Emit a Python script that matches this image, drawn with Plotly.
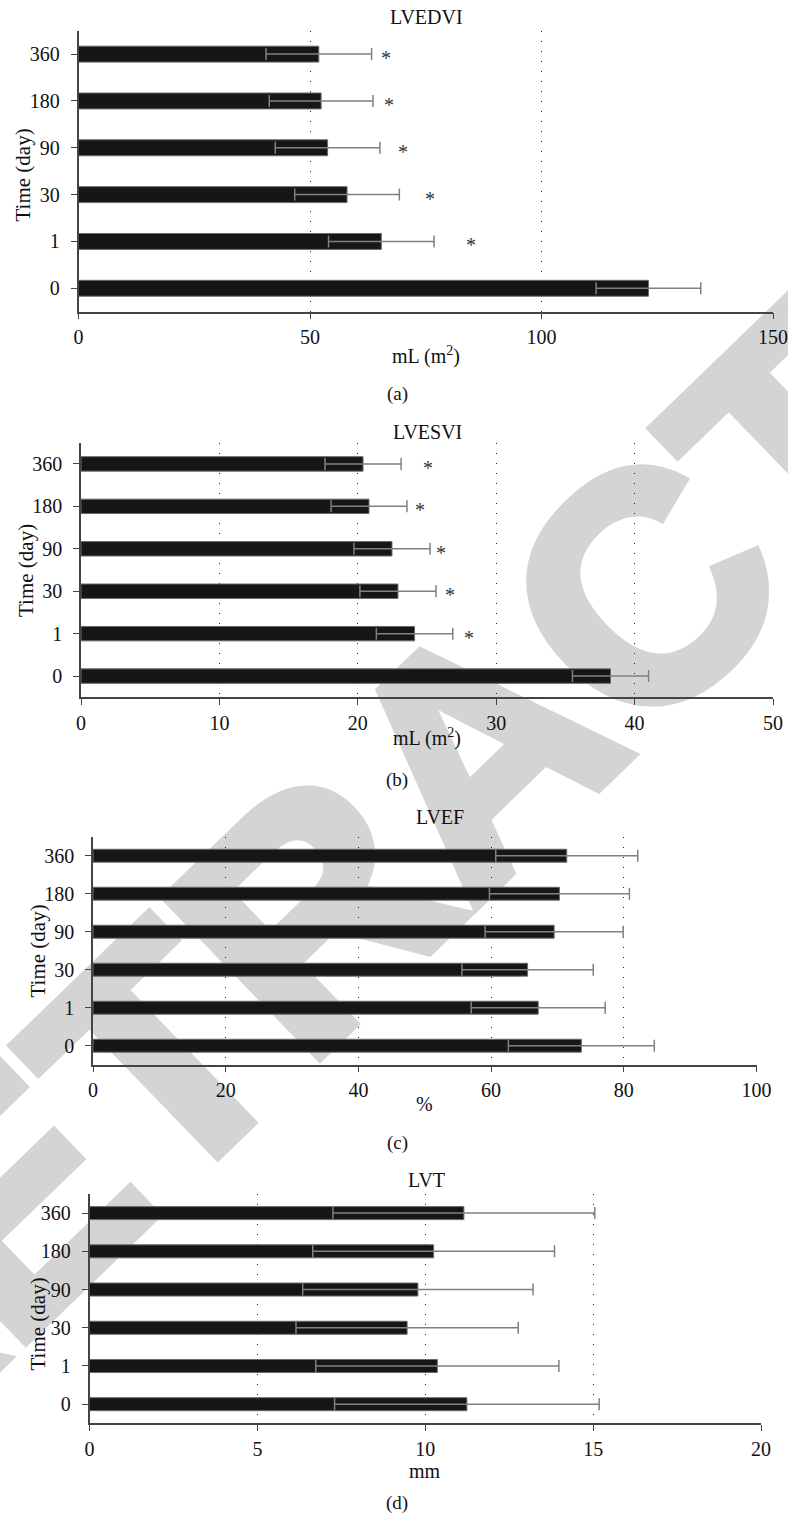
import base64
import plotly.graph_objects as go

W, H = 788, 1514
FONT = "Liberation Serif"

categories = ["0", "1", "30", "90", "180", "360"]

# Panel (a) LVEDVI
a_values = [123.1, 65.4, 58.0, 53.8, 52.4, 51.9]
a_errors = [11.3, 11.4, 11.3, 11.3, 11.2, 11.4]
a_star_x = [None, 84.8, 75.9, 70.1, 67.1, 66.5]

# Panel (b) LVESVI
b_values = [38.26, 24.1, 22.9, 22.47, 20.81, 20.38]
b_errors = [2.75, 2.76, 2.75, 2.75, 2.74, 2.75]
b_star_x = [None, 28.0, 26.66, 26.0, 24.5, 25.04]

# Panel (c) LVEF
c_values = [73.6, 67.1, 65.5, 69.5, 70.3, 71.4]
c_errors = [11.0, 10.1, 9.9, 10.4, 10.55, 10.7]

# Panel (d) LVT
d_values = [11.24, 10.36, 9.46, 9.78, 10.25, 11.15]
d_errors = [3.94, 3.62, 3.31, 3.43, 3.60, 3.90]

panels = [
    dict(title="LVEDVI", xtitle="mL (m<sup>2</sup>)", label="(a)", values=a_values, errors=a_errors,
         stars=a_star_x, rng=[0, 150], dtick=50,
         xdom=(78.5, 773), ydom=(30.7, 311.7), title_xy=(426, 17), xt_y=355,
         ylab=(22.5, 175), lab_y=394),
    dict(title="LVESVI", xtitle="mL (m<sup>2</sup>)", label="(b)", values=b_values, errors=b_errors,
         stars=b_star_x, rng=[0, 50], dtick=10,
         xdom=(81, 773), ydom=(442.7, 697.3), title_xy=(427, 432), xt_y=737,
         ylab=(26, 571), lab_y=780),
    dict(title="LVEF", xtitle="%", label="(c)", values=c_values, errors=c_errors,
         stars=None, rng=[0, 100], dtick=20,
         xdom=(93, 756.5), ydom=(836.7, 1064.7), title_xy=(440, 817), xt_y=1104,
         ylab=(37.5, 951), lab_y=1143),
    dict(title="LVT", xtitle="mm", label="(d)", values=d_values, errors=d_errors,
         stars=None, rng=[0, 20], dtick=5,
         xdom=(89.5, 761), ydom=(1194, 1423.3), title_xy=(426, 1180), xt_y=1471,
         ylab=(37.5, 1324), lab_y=1503),
]


def fx(px):
    return px / W


def fy(py):
    return 1 - py / H


fig = go.Figure()
annotations = []
layout_axes = {}
txt = dict(family=FONT, size=20, color="#111111")

for i, p in enumerate(panels, start=1):
    xa = "x" if i == 1 else f"x{i}"
    ya = "y" if i == 1 else f"y{i}"
    fig.add_trace(go.Bar(
        x=p["values"], y=categories, orientation="h", xaxis=xa, yaxis=ya,
        width=0.34,
        marker=dict(color="#161616", line=dict(color="#6a6a6a", width=1)),
        error_x=dict(type="data", array=p["errors"], visible=True, color="#808080",
                     thickness=1.5, width=6),
        showlegend=False, hoverinfo="x+y",
    ))
    if p["stars"]:
        for idx, sx in enumerate(p["stars"]):
            if sx is None:
                continue
            annotations.append(dict(
                x=sx, y=idx, xref=xa, yref=ya, text="*", showarrow=False,
                xanchor="center", yanchor="middle",
                font=dict(family=FONT, size=20, color="#333333"), yshift=-4))

    x0, x1 = p["xdom"]
    y0, y1 = p["ydom"]
    axis_common = dict(showline=True, linecolor="#444444", linewidth=1.5,
                       ticks="outside", ticklen=6, tickcolor="#444444", tickwidth=1.2,
                       tickfont=dict(family=FONT, size=20, color="#111111"),
                       zeroline=False, automargin=False)
    key_x = "xaxis" if i == 1 else f"xaxis{i}"
    key_y = "yaxis" if i == 1 else f"yaxis{i}"
    layout_axes[key_x] = dict(
        domain=[fx(x0), fx(x1)], anchor=ya, range=p["rng"], dtick=p["dtick"], tick0=0,
        showgrid=True, gridcolor="#222222", gridwidth=1, griddash="1px,9px",
        ticklabelstandoff=1, **axis_common)
    layout_axes[key_y] = dict(
        domain=[fy(y1), fy(y0)], anchor=xa, type="category",
        categoryorder="array", categoryarray=categories, range=[-0.5, 5.5],
        showgrid=False, ticklabelstandoff=7, **axis_common)

    tx, ty = p["title_xy"]
    common = dict(xref="paper", yref="paper", showarrow=False, xanchor="center", yanchor="middle")
    annotations.append(dict(x=fx(tx), y=fy(ty), text=p["title"], font=txt, **common))
    annotations.append(dict(x=fx((x0 + x1) / 2), y=fy(p["xt_y"]), text=p["xtitle"], font=txt, **common))
    annotations.append(dict(x=fx(p["ylab"][0]), y=fy(p["ylab"][1]), text="Time (day)", textangle=-90,
                            font=dict(family=FONT, size=21, color="#111111"), **common))
    annotations.append(dict(x=fx(397), y=fy(p["lab_y"]), text=p["label"],
                            font=dict(family=FONT, size=19, color="#111111"), **common))

# Background watermark (decorative, drawn beneath the charts)
WM_SIZE = 320
WM_ANGLE = -44
WM_X, WM_Y = 554, 830  # baseline point under the middle of the word
svg = (
    f'<svg xmlns="http://www.w3.org/2000/svg" width="{W}" height="{H}" viewBox="0 0 {W} {H}">'
    f'<g transform="translate({WM_X},{WM_Y}) rotate({WM_ANGLE})">'
    f'<text x="0" y="0" text-anchor="middle" '
    f'font-family="Liberation Sans, Arial, sans-serif" font-weight="bold" '
    f'font-size="{WM_SIZE}" fill="#d4d4d4" stroke="#d4d4d4" stroke-width="11" '
    f'stroke-linejoin="miter">RETRACTED</text></g></svg>'
)
wm_src = "data:image/svg+xml;base64," + base64.b64encode(svg.encode()).decode()

fig.update_layout(
    width=W, height=H, margin=dict(l=0, r=0, t=0, b=0, autoexpand=False),
    paper_bgcolor="white", plot_bgcolor="rgba(0,0,0,0)",
    annotations=annotations,
    images=[dict(source=wm_src, xref="paper", yref="paper", x=0, y=1, sizex=1, sizey=1,
                 xanchor="left", yanchor="top", sizing="stretch", layer="below")],
    **layout_axes,
)

fig.write_html("out.html", config={"displayModeBar": False},
               post_script="document.body.style.margin='0';document.body.style.overflow='hidden';")
